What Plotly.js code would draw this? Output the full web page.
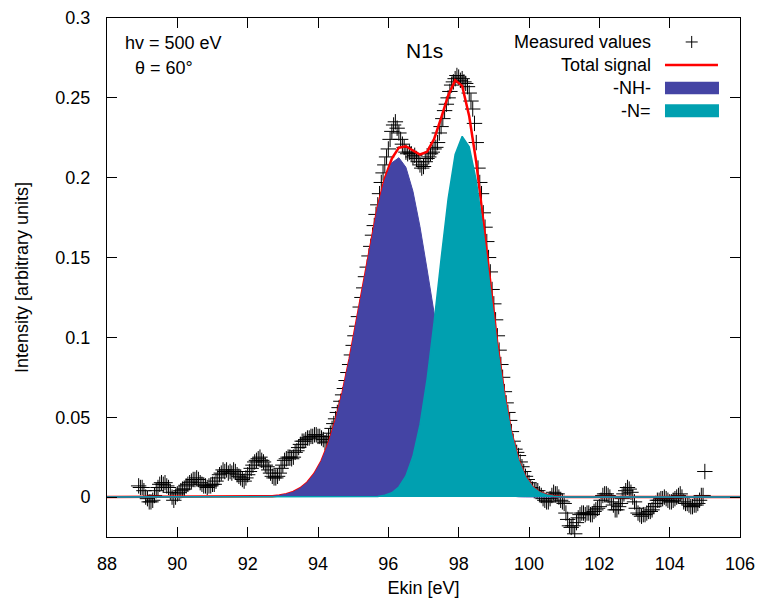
<!DOCTYPE html>
<html><head><meta charset="utf-8">
<script src="https://cdn.plot.ly/plotly-3.0.1.min.js"></script>
<style>html,body{margin:0;padding:0;background:#fff}#chart{width:758px;height:606px}</style>
</head><body><div id="chart"></div>
<script>
// Measured values (Ekin [eV], intensity)
const measuredX = [
88.90,88.95,
89.00,89.05,89.10,89.15,89.20,89.25,89.30,89.35,89.40,89.45,89.50,89.55,89.60,89.65,89.70,89.75,89.80,89.85,89.90,89.95,
90.00,90.05,90.10,90.15,90.20,90.25,90.30,90.35,90.40,90.45,90.50,90.55,90.60,90.65,90.70,90.75,90.80,90.85,90.90,90.95,
91.00,91.05,91.10,91.15,91.20,91.25,91.30,91.35,91.40,91.45,91.50,91.55,91.60,91.65,91.70,91.75,91.80,91.85,91.90,91.95,
92.00,92.05,92.10,92.15,92.20,92.25,92.30,92.35,92.40,92.45,92.50,92.55,92.60,92.65,92.70,92.75,92.80,92.85,92.90,92.95,
93.00,93.05,93.10,93.15,93.20,93.25,93.30,93.35,93.40,93.45,93.50,93.55,93.60,93.65,93.70,93.75,93.80,93.85,93.90,93.95,
94.00,94.05,94.10,94.15,94.20,94.25,94.30,94.35,94.40,94.45,94.50,94.55,94.60,94.65,94.70,94.75,94.80,94.85,94.90,94.95,
95.00,95.05,95.10,95.15,95.20,95.25,95.30,95.35,95.40,95.45,95.50,95.55,95.60,95.65,95.70,95.75,95.80,95.85,95.90,95.95,
96.00,96.05,96.10,96.15,96.20,96.25,96.30,96.35,96.40,96.45,96.50,96.55,96.60,96.65,96.70,96.75,96.80,96.85,96.90,96.95,
97.00,97.05,97.10,97.15,97.20,97.25,97.30,97.35,97.40,97.45,97.50,97.55,97.60,97.65,97.70,97.75,97.80,97.85,97.90,97.95,
98.00,98.05,98.10,98.15,98.20,98.25,98.30,98.35,98.40,98.45,98.50,98.55,98.60,98.65,98.70,98.75,98.80,98.85,98.90,98.95,
99.00,99.05,99.10,99.15,99.20,99.25,99.30,99.35,99.40,99.45,99.50,99.55,99.60,99.65,99.70,99.75,99.80,99.85,99.90,99.95,
100.00,100.05,100.10,100.15,100.20,100.25,100.30,100.35,100.40,100.45,100.50,100.55,100.60,100.65,100.70,100.75,100.80,100.85,100.90,100.95,
101.00,101.05,101.10,101.15,101.20,101.25,101.30,101.35,101.40,101.45,101.50,101.55,101.60,101.65,101.70,101.75,101.80,101.85,101.90,101.95,
102.00,102.05,102.10,102.15,102.20,102.25,102.30,102.35,102.40,102.45,102.50,102.55,102.60,102.65,102.70,102.75,102.80,102.85,102.90,102.95,
103.00,103.05,103.10,103.15,103.20,103.25,103.30,103.35,103.40,103.45,103.50,103.55,103.60,103.65,103.70,103.75,103.80,103.85,103.90,103.95,
104.00,104.05,104.10,104.15,104.20,104.25,104.30,104.35,104.40,104.45,104.50,104.55,104.60,104.65,104.70,104.75,104.80,104.85,104.90,104.95,
105.00];
const measuredY = [
0.007,0.006,
0.006,0.004,0.000,-0.001,-0.003,-0.003,-0.002,0.001,0.004,0.006,0.008,0.009,0.008,0.009,0.007,0.006,0.003,0.000,-0.002,0.000,
0.002,0.003,0.004,0.005,0.005,0.007,0.008,0.009,0.010,0.011,0.011,0.012,0.011,0.009,0.008,0.007,0.007,0.006,0.007,0.007,
0.008,0.008,0.010,0.012,0.014,0.015,0.017,0.016,0.017,0.015,0.016,0.015,0.017,0.016,0.014,0.013,0.012,0.011,0.010,0.012,
0.014,0.016,0.018,0.020,0.022,0.023,0.024,0.025,0.023,0.022,0.020,0.019,0.017,0.015,0.013,0.012,0.012,0.013,0.015,0.018,
0.020,0.023,0.024,0.025,0.025,0.024,0.025,0.028,0.029,0.031,0.033,0.035,0.035,0.036,0.037,0.037,0.038,0.038,0.039,0.039,
0.038,0.038,0.037,0.036,0.034,0.035,0.038,0.040,0.043,0.046,0.049,0.053,0.056,0.060,0.064,0.068,0.073,0.078,0.083,0.089,
0.095,0.101,0.107,0.113,0.119,0.125,0.131,0.138,0.144,0.151,0.157,0.164,0.170,0.177,0.183,0.190,0.197,0.203,0.208,0.213,
0.218,0.224,0.229,0.233,0.235,0.231,0.228,0.224,0.221,0.219,0.216,0.215,0.216,0.215,0.213,0.214,0.212,0.210,0.208,0.206,
0.207,0.210,0.212,0.213,0.215,0.216,0.218,0.219,0.222,0.228,0.232,0.237,0.242,0.246,0.250,0.254,0.258,0.260,0.262,0.264,
0.263,0.261,0.262,0.260,0.259,0.257,0.253,0.248,0.243,0.234,0.222,0.206,0.197,0.190,0.178,0.169,0.160,0.150,0.141,0.130,
0.121,0.111,0.101,0.092,0.083,0.075,0.066,0.059,0.053,0.048,0.041,0.035,0.030,0.028,0.026,0.022,0.019,0.016,0.013,0.011,
0.009,0.006,0.005,0.004,0.004,0.004,0.002,0.001,-0.001,-0.002,-0.003,-0.003,-0.001,0.001,0.003,0.002,0.002,0.000,-0.002,-0.003,
-0.004,-0.010,-0.014,-0.018,-0.019,-0.018,-0.023,-0.016,-0.013,-0.011,-0.010,-0.010,-0.011,-0.010,-0.010,-0.011,-0.011,-0.009,-0.008,-0.007,
-0.006,-0.002,0.001,0.002,0.002,0.001,0.000,-0.003,-0.005,-0.008,-0.008,-0.006,-0.004,-0.001,0.002,0.004,0.006,0.005,0.003,0.000,
-0.003,-0.007,-0.010,-0.011,-0.012,-0.011,-0.011,-0.010,-0.009,-0.009,-0.008,-0.006,-0.004,-0.002,-0.002,-0.001,-0.001,0.000,-0.001,-0.002,
-0.003,-0.003,-0.002,-0.001,0.000,0.001,0.002,0.000,-0.003,-0.004,-0.004,-0.005,-0.006,-0.006,-0.005,-0.005,-0.004,-0.002,0.001,0.001,
0.016];

// Fitted curves, sampled
const fitX = [88.0,
92.1,92.3,92.5,92.7,92.9,93.1,93.3,93.5,93.7,93.9,
94.1,94.3,94.5,94.7,94.9,95.1,95.3,95.5,95.7,95.9,
96.1,96.3,96.5,96.7,96.9,97.1,97.3,97.5,97.7,97.9,
98.1,98.3,98.5,98.7,98.9,99.1,99.3,99.5,99.7,99.9,
100.1,100.3,100.5,100.7,100.9,101.1,
106.0];
const totalY = [0,
0.0001,0.0001,0.0003,0.0005,0.0010,0.0018,0.0032,0.0056,0.0092,0.0147,
0.0226,0.0335,0.0478,0.0655,0.0866,0.1102,0.1352,0.1596,0.1817,0.1996,
0.2120,0.2188,0.2197,0.2170,0.2145,0.2162,0.2241,0.2373,0.2514,0.2610,
0.2575,0.2385,0.2097,0.1729,0.1334,0.0959,0.0644,0.0402,0.0233,0.0126,
0.0063,0.0029,0.0013,0.0005,0.0002,0.0001,
0];
const nhY = [0,
0.0001,0.0001,0.0003,0.0005,0.0010,0.0018,0.0032,0.0056,0.0092,0.0147,
0.0226,0.0335,0.0478,0.0655,0.0866,0.1102,0.1352,0.1595,0.1813,0.1985,
0.2093,0.2125,0.2065,0.1915,0.1693,0.1428,0.1149,0.0882,0.0646,0.0451,
0.0300,0.0191,0.0116,0.0067,0.0037,0.0019,0.0010,0.0005,0.0002,0.0001,
0,0,0,0,0,0,
0];
const neqY = [0,
0,0,0,0,0,0,0,0,0,0,
0,0,0,0,0,0,0.0000,0.0001,0.0004,0.0011,
0.0027,0.0063,0.0132,0.0255,0.0452,0.0734,0.1092,0.1491,0.1868,0.2145,
0.2259,0.2194,0.1981,0.1662,0.1297,0.0940,0.0634,0.0397,0.0231,0.0125,
0.0063,0.0029,0.0013,0.0005,0.0002,0.0001,
0];

const xTickVals = [88,90,92,94,96,98,100,102,104,106];
const yTickVals = [0,0.05,0.1,0.15,0.2,0.25,0.3];
const yTickText = ['0','0.05','0.1','0.15','0.2','0.25','0.3'];
const seriesNames = ['Measured values','Total signal','-NH-','-N='];

const FONT = '"Liberation Sans", Arial, Helvetica, sans-serif';
const C_NH = '#4444a4', C_NEQ = '#00a0b0', C_TOT = '#ff0000';
const X_RANGE = [88,106], Y_RANGE = [-0.025,0.3];

const traces = [
  {type:'scatter', mode:'markers', x:measuredX, y:measuredY, name:seriesNames[0],
   marker:{symbol:'cross-thin', size:11, color:'#000', line:{color:'#000', width:1}}},
  {type:'scatter', mode:'lines', x:fitX, y:totalY, name:seriesNames[1], line:{color:C_TOT, width:2.5}},
  // fits on an overlaid subplot so they are painted over the measured points (as in the original)
  {type:'scatter', mode:'lines', x:fitX, y:nhY, name:seriesNames[2], xaxis:'x2', yaxis:'y2',
   fill:'tozeroy', fillcolor:C_NH, line:{color:C_NH, width:1}},
  {type:'scatter', mode:'lines', x:fitX, y:neqY, name:seriesNames[3], xaxis:'x2', yaxis:'y2',
   fill:'tozeroy', fillcolor:C_NEQ, line:{color:C_NEQ, width:1.5}}
];

// legend drawn gnuplot-style (text right-aligned, sample to the right)
const legTextX = 0.8626;
const legY = [0.9538, 0.9104, 0.8651, 0.8208];
const annotations = [
  {text:'hv = 500 eV', x:0.0248, y:0.9518, xanchor:'left'},
  {text:'θ = 60°', x:0.0411, y:0.9037, xanchor:'left'},
  {text:'N1s', x:0.5008, y:0.9383, xanchor:'center', font:{size:21}}
].concat(seriesNames.map((n,i)=>({text:n, x:legTextX, y:legY[i], xanchor:'right'})))
 .map(a=>Object.assign({xref:'paper', yref:'paper', yanchor:'middle', showarrow:false, font:{size:18}}, a));

const shapes = [
  {type:'line', xref:'paper', yref:'paper', x0:0.9142, x1:0.9332, y0:legY[0], y1:legY[0], line:{color:'#000', width:1}},
  {type:'line', xref:'paper', yref:'paper', x0:0.9237, x1:0.9237, y0:legY[0]-0.0116, y1:legY[0]+0.0116, line:{color:'#000', width:1}},
  {type:'line', xref:'paper', yref:'paper', x0:0.8815, x1:0.9652, y0:0.9094, y1:0.9094, line:{color:C_TOT, width:2.5}},
  {type:'rect', xref:'paper', yref:'paper', x0:0.8815, x1:0.9668, y0:0.8530, y1:0.8773, fillcolor:C_NH, line:{width:0}},
  {type:'rect', xref:'paper', yref:'paper', x0:0.8815, x1:0.9668, y0:0.8087, y1:0.8337, fillcolor:C_NEQ, line:{width:0}}
];

const axisCommon = {showline:true, linecolor:'#000', linewidth:1, mirror:'ticks', ticks:'inside', ticklen:10,
  tickwidth:1, tickcolor:'#000', showgrid:false, zeroline:false, tickfont:{size:18}, automargin:false};

const layout = {
  width:758, height:606, margin:{l:107, r:18, t:18, b:69},
  paper_bgcolor:'#fff', plot_bgcolor:'#fff', showlegend:false,
  font:{family:FONT, size:18, color:'#000'},
  xaxis:Object.assign({}, axisCommon, {range:X_RANGE, tickmode:'array', tickvals:xTickVals,
    ticklabelstandoff:10, title:{text:'Ekin [eV]', font:{size:18}, standoff:8}}),
  yaxis:Object.assign({}, axisCommon, {range:Y_RANGE, tickmode:'array', tickvals:yTickVals, ticktext:yTickText,
    ticklabelstandoff:12, title:{text:'Intensity [arbitrary units]', font:{size:18}, standoff:22}}),
  xaxis2:{overlaying:'x', range:X_RANGE, visible:false},
  yaxis2:{overlaying:'y', range:Y_RANGE, visible:false},
  annotations:annotations, shapes:shapes
};

Plotly.newPlot('chart', traces, layout, {displayModeBar:false, staticPlot:true});
</script></body></html>
